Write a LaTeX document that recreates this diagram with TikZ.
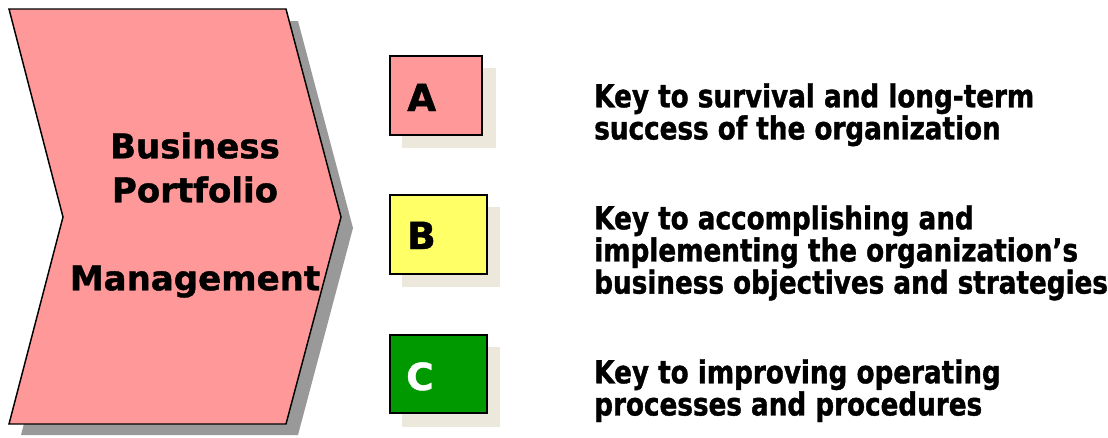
\documentclass[tikz,border=0pt]{standalone}
\usepackage{fontspec}
\setmainfont{DejaVu Sans}[BoldFeatures={FakeBold=1.2}]
\newfontfamily\descfont{DejaVu Sans}[FakeStretch=0.83,BoldFeatures={FakeBold=1.2}]
\definecolor{chevpink}{HTML}{FF9999}
\definecolor{boxyellow}{HTML}{FFFF66}
\definecolor{boxgreen}{HTML}{009900}
\definecolor{shadowgray}{HTML}{999999}
\definecolor{shadowbeige}{HTML}{ECE9DC}
\begin{document}
\begin{tikzpicture}[x=0.75pt,y=-0.75pt,
  chev/.style={fill=chevpink,draw=black,line width=1.1pt,line join=miter},
  chevshadow/.style={fill=shadowgray,draw=none},
  keybox/.style={draw=black,line width=1.1pt,rectangle,inner sep=0pt},
  boxshadow/.style={fill=shadowbeige,draw=none},
  keyletter/.style={anchor=base west,inner sep=0pt,font=\fontsize{28}{30}\selectfont\bfseries},
  chevtext/.style={align=center,inner sep=0pt,font=\fontsize{25.5}{33}\selectfont\bfseries},
  desc/.style={anchor=north west,align=left,inner sep=0pt,font=\descfont\fontsize{23.7}{22.5}\selectfont\bfseries}]
\useasboundingbox (0,0) rectangle (1108,437);
% chevron shadow and chevron
\fill[chevshadow] (21,21) -- (298,21) -- (353,228) -- (298,435) -- (21,435) -- (75,228) -- cycle;
\draw[chev] (9,9) -- (286,9) -- (341,217) -- (286,424) -- (9,424) -- (63,217) -- cycle;
\node[chevtext] (bpm) at (195,215) {Business\\Portfolio\\[33pt]Management};
% box shadows
\fill[boxshadow] (402,68) rectangle (496,148);
\fill[boxshadow] (402,207) rectangle (500,287);
\fill[boxshadow] (402,347) rectangle (500,427);
% boxes
\node[keybox,fill=chevpink,minimum width=69pt,minimum height=59pt] (boxa) at (436,95.5) {};
\node[keybox,fill=boxyellow,minimum width=72.75pt,minimum height=59pt] (boxb) at (438.5,234.5) {};
\node[keybox,fill=boxgreen,minimum width=72.75pt,minimum height=58.5pt] (boxc) at (438.5,374) {};
\node[keyletter] (la) at (407,111) {A};
\node[keyletter] (lb) at (407,249) {B};
\node[keyletter,text=white] (lc) at (406,390) {C};
% descriptions
\node[desc] (da) at (594,83) {Key to survival and long-term\\success of the organization};
\node[desc] (db) at (594,205) {Key to accomplishing and\\implementing the organization’s\\business objectives and strategies};
\node[desc] (dc) at (594,359) {Key to improving operating\\processes and procedures};
\end{tikzpicture}
\end{document}
